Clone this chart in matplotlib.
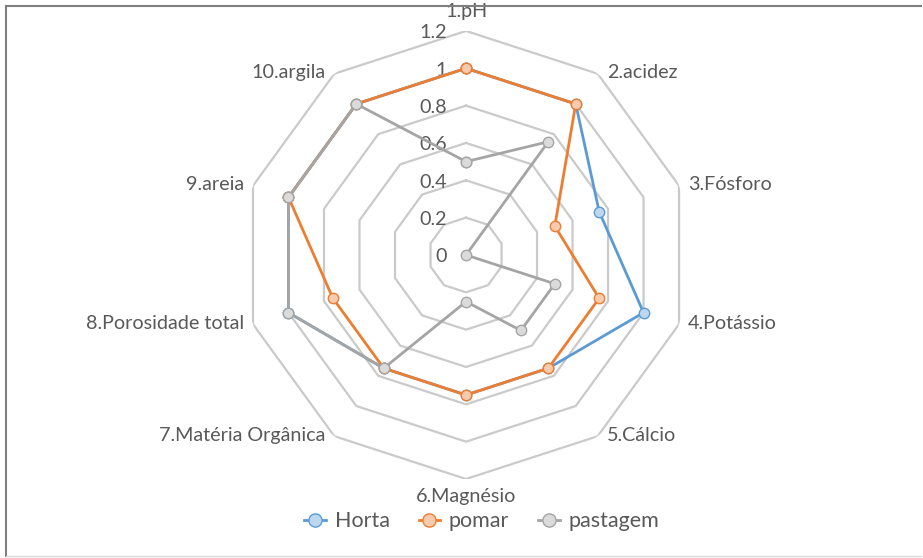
import numpy as np
import matplotlib

matplotlib.use("Agg")
import matplotlib.pyplot as plt
from matplotlib.lines import Line2D

CATEGORIES = [
    "1.pH", "2.acidez", "3.Fósforo", "4.Potássio", "5.Cálcio",
    "6.Magnésio", "7.Matéria Orgânica", "8.Porosidade total", "9.areia",
    "10.argila",
]
HORTA = [1.0, 1.0, 0.75, 1.0, 0.75, 0.75, 0.75, 1.0, 1.0, 1.0]
POMAR = [1.0, 1.0, 0.5, 0.75, 0.75, 0.75, 0.75, 0.75, 1.0, 1.0]
PASTAGEM = [0.5, 0.75, 0.0, 0.5, 0.5, 0.25, 0.75, 1.0, 1.0, 1.0]
RINGS = [0, 0.2, 0.4, 0.6, 0.8, 1.0, 1.2]
RING_LABELS = ["0", "0.2", "0.4", "0.6", "0.8", "1", "1.2"]

SERIES = [
    ("Horta", HORTA, "#5B9BD5", "#BDD7EE"),
    ("pomar", POMAR, "#ED7D31", "#F8CBAD"),
    ("pastagem", PASTAGEM, "#A5A5A5", "#DBDBDB"),
]

TEXT = "#595959"
GRID = "#CACACA"
FS = 14.2
plt.rcParams["font.family"] = ["Lato", "DejaVu Sans"]

fig = plt.figure(figsize=(9.23, 5.58), dpi=100)
ax = fig.add_axes([0.2622, 0.1416, 0.4854, 0.8029], projection="polar")
ax.set_theta_zero_location("N")
ax.set_theta_direction(-1)
ax.set_ylim(0, 1.2)
ax.grid(False)
ax.set_xticks([])
ax.set_yticks([])
ax.spines["polar"].set_visible(False)
ax.patch.set_alpha(0)

n = len(CATEGORIES)
theta = np.arange(n) * 2 * np.pi / n
closed = np.append(theta, theta[0])

# decagon grid
for r in RINGS[1:]:
    ax.plot(closed, [r] * (n + 1), color=GRID, lw=1.6, zorder=1)

for r, lab in zip(RINGS, RING_LABELS):
    ax.annotate(lab, xy=(0, r), xytext=(-19, -2), textcoords="offset pixels",
                ha="right", va="center", fontsize=FS, color=TEXT)

for cat, t in zip(CATEGORIES, theta):
    s = np.sin(t)
    if abs(s) < 1e-6:
        off = (0, 19) if np.cos(t) > 0 else (0, -18)
        ha = "center"
    else:
        off = (9 if s > 0 else -9, 1)
        ha = "left" if s > 0 else "right"
    ax.annotate(cat, xy=(t, 1.2), xytext=off, textcoords="offset pixels",
                ha=ha, va="center", fontsize=FS, color=TEXT,
                annotation_clip=False)

handles = []
for name, vals, col, fill in SERIES:
    v = np.append(vals, vals[0])
    ax.plot(closed, v, color=col, lw=2.0, marker="o", markersize=7.5,
            markerfacecolor=fill, markeredgecolor=col, markeredgewidth=1.0,
            zorder=3)
    handles.append(Line2D([], [], color=col, lw=2.0, marker="o", markersize=9.5,
                          markerfacecolor=fill, markeredgecolor=col,
                          label=name))

fig.legend(handles=handles, loc="center", bbox_to_anchor=(0.522, 0.066),
           ncol=3, frameon=False, fontsize=15.5, handlelength=1.0,
           handletextpad=0.4, columnspacing=1.35, labelcolor=TEXT)

# chart area border
fig.add_artist(Line2D([6 / 923, 921 / 923], [1 - 6 / 558, 1 - 6 / 558],
                      color="#7F7F7F", lw=1.5, transform=fig.transFigure))
fig.add_artist(Line2D([6 / 923, 6 / 923], [1 - 6 / 558, 1 - 556 / 558],
                      color="#7F7F7F", lw=1.5, transform=fig.transFigure))
fig.add_artist(Line2D([6 / 923, 921 / 923], [1 - 556 / 558, 1 - 556 / 558],
                      color="#D9D9D9", lw=1.0, transform=fig.transFigure))

fig.savefig("out.png", dpi=100)
